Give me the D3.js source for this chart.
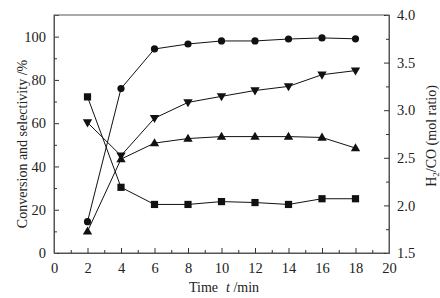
<!DOCTYPE html>
<html><head><meta charset="utf-8">
<script src="https://cdn.jsdelivr.net/npm/d3@7"></script>
<style>
html,body{margin:0;padding:0;background:#fff;}
svg{display:block;}
text{font-family:"Liberation Serif","Times New Roman",serif;fill:#222;}
</style></head>
<body>
<script>
const times = [2, 4, 6, 8, 10, 12, 14, 16, 18];
const circleSeries = [14.5, 76, 94.3, 96.6, 98, 98, 98.9, 99.4, 99];
const triDownSeries = [60.3, 45, 62.3, 69.6, 72.4, 75.1, 77, 82.4, 84.3];
const triUpSeries = [10, 43.4, 50.8, 52.9, 53.8, 53.8, 53.8, 53.4, 48.5];
const ratioSeries = [3.14, 2.19, 2.01, 2.01, 2.04, 2.03, 2.01, 2.07, 2.07];
const xTicks = [0, 2, 4, 6, 8, 10, 12, 14, 16, 18, 20];
const leftTicks = [0, 20, 40, 60, 80, 100];
const rightTicks = [1.5, 2.0, 2.5, 3.0, 3.5, 4.0];

const W = 440, H = 298;
const m = {l: 54, r: 389, t: 15, b: 253};
const svg = d3.select("body").append("svg").attr("width", W).attr("height", H);

const x = d3.scaleLinear().domain([0, 20]).range([m.l, m.r]);
const yL = d3.scaleLinear().domain([0, 110]).range([m.b, m.t]);
const yR = d3.scaleLinear().domain([1.5, 4.0]).range([m.b, m.t]);

const col = "#111";
// frame
svg.append("rect").attr("x", m.l).attr("y", m.t).attr("width", m.r - m.l).attr("height", m.b - m.t)
  .attr("fill", "none").attr("stroke", "#555").attr("stroke-width", 1);

const fs = 14.5;
// bottom axis
const gx = svg.append("g").attr("transform", `translate(0,${m.b})`);
gx.call(d3.axisBottom(x).tickValues(xTicks).tickSize(-5).tickPadding(10).tickFormat(d3.format("d")));
gx.append("g").call(d3.axisBottom(x).tickValues(d3.range(1, 20, 2)).tickSize(-3).tickFormat(""));
// left axis
const gl = svg.append("g").attr("transform", `translate(${m.l},0)`);
gl.call(d3.axisLeft(yL).tickValues(leftTicks).tickSize(-5).tickPadding(8).tickFormat(d3.format("d")));
gl.append("g").call(d3.axisLeft(yL).tickValues([10, 30, 50, 70, 90]).tickSize(-3).tickFormat(""));
// right axis
const gr = svg.append("g").attr("transform", `translate(${m.r},0)`);
gr.call(d3.axisRight(yR).tickValues(rightTicks).tickSize(-5).tickPadding(8).tickFormat(d3.format(".1f")));
gr.append("g").call(d3.axisRight(yR).tickValues([1.75, 2.25, 2.75, 3.25, 3.75]).tickSize(-3).tickFormat(""));

svg.selectAll(".domain").attr("stroke", "#555");
svg.selectAll(".tick line").attr("stroke", "#333");
svg.selectAll(".tick text").attr("font-size", fs).attr("font-family", "Liberation Serif").attr("fill", "#333");

// axis titles
svg.append("text").attr("transform", `translate(27,${(m.t + m.b) / 2 + 10}) rotate(-90)`)
  .attr("text-anchor", "middle").attr("font-size", 14).text("Conversion and selectivity /%");
const rt = svg.append("text").attr("transform", `translate(436,136) rotate(-90)`)
  .attr("text-anchor", "middle").attr("font-size", 14);
rt.append("tspan").text("H");
rt.append("tspan").attr("font-size", 9).attr("dy", 3).text("2");
rt.append("tspan").attr("dy", -3).text("/CO (mol ratio)");
const xt = svg.append("text").attr("x", 189).attr("y", 292).attr("font-size", 14);
xt.append("tspan").text("Time");
xt.append("tspan").attr("x", 226).attr("font-style", "italic").text("t");
xt.append("tspan").text(" /min");

// series
function drawSeries(vals, yS, shape) {
  const pts = times.map((t, i) => [x(t), yS(vals[i])]);
  svg.append("path").attr("d", d3.line()(pts)).attr("fill", "none").attr("stroke", col).attr("stroke-width", 1);
  const g = svg.append("g");
  times.forEach((t, i) => {
    const cx = x(t), cy = yS(vals[i]);
    if (shape === "circle") g.append("circle").attr("cx", cx).attr("cy", cy).attr("r", 3.6).attr("fill", col);
    else if (shape === "square") g.append("rect").attr("x", cx - 3.6).attr("y", cy - 3.6).attr("width", 7.2).attr("height", 7.2).attr("fill", col);
    else {
      const sym = d3.symbol().type(d3.symbolTriangle).size(38);
      g.append("path").attr("d", sym()).attr("fill", col)
        .attr("transform", `translate(${cx},${cy + (shape === "down" ? -0.5 : 0.5)}) rotate(${shape === "down" ? 180 : 0})`);
    }
  });
}
drawSeries(ratioSeries, yR, "square");
drawSeries(circleSeries, yL, "circle");
drawSeries(triDownSeries, yL, "down");
drawSeries(triUpSeries, yL, "up");
</script>
</body></html>
